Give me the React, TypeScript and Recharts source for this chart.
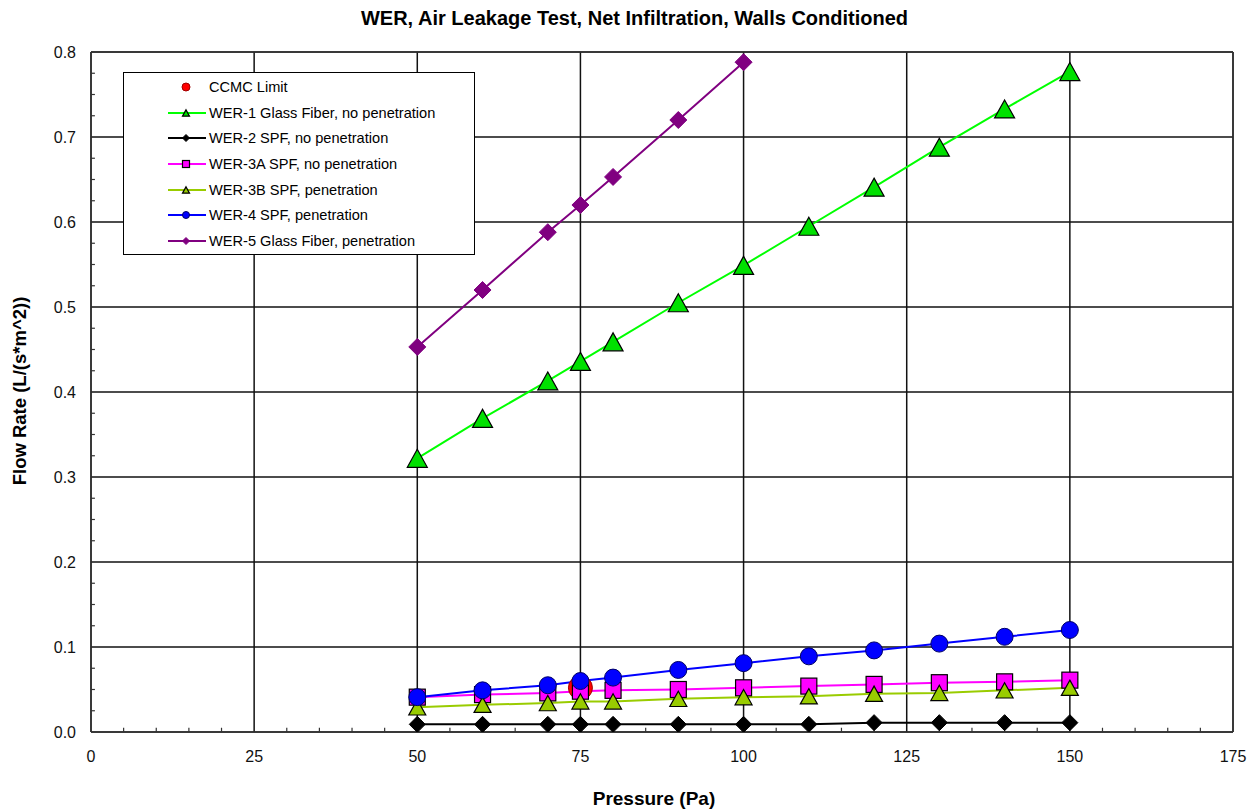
import React from "react";
import {
  LineChart,
  Line,
  XAxis,
  YAxis,
  CartesianGrid,
  ReferenceLine,
} from "recharts";

const pressureLong = [50, 60, 70, 75, 80, 90, 100, 110, 120, 130, 140, 150];
const pressureShort = [50, 60, 70, 75, 80, 90, 100];

const ccmcLimit = [0.052];
const wer1 = [0.322, 0.369, 0.413, 0.436, 0.459, 0.505, 0.549, 0.595, 0.641, 0.688, 0.733, 0.777];
const wer2 = [0.009, 0.009, 0.009, 0.009, 0.009, 0.009, 0.009, 0.009, 0.011, 0.011, 0.011, 0.011];
const wer3a = [0.041, 0.044, 0.046, 0.048, 0.049, 0.05, 0.052, 0.054, 0.056, 0.058, 0.059, 0.061];
const wer3b = [0.029, 0.032, 0.034, 0.036, 0.036, 0.039, 0.041, 0.042, 0.045, 0.046, 0.049, 0.052];
const wer4 = [0.041, 0.049, 0.055, 0.06, 0.064, 0.073, 0.081, 0.089, 0.096, 0.104, 0.112, 0.12];
const wer5 = [0.453, 0.52, 0.588, 0.62, 0.653, 0.72, 0.788];

const xTicks = [0, 25, 50, 75, 100, 125, 150, 175];
const yTicks = [0, 0.1, 0.2, 0.3, 0.4, 0.5, 0.6, 0.7, 0.8];
// minor ticks (inside the plot), skipping the major positions
const xMinor = Array.from({ length: 36 }, (_, i) => i * 5).filter((v) => v % 25 !== 0);
const yMinor = Array.from({ length: 33 }, (_, i) => Math.round(i * 25) / 1000).filter((_, i) => i % 4 !== 0);

const toPoints = (xs: number[], ys: number[]) => ys.map((y, i) => ({ x: xs[i], y }));

type Marker = "circle" | "triangle" | "diamond" | "square";

interface Series {
  name: string;
  data: { x: number; y: number }[];
  line: string;
  fill: string;
  stroke: string;
  marker: Marker;
  size: number;
  showLine: boolean;
}

const series: Series[] = [
  { name: "CCMC Limit", data: toPoints([75], ccmcLimit), line: "none", fill: "#ff0000", stroke: "#a00000", marker: "circle", size: 24, showLine: false },
  { name: "WER-1 Glass Fiber, no penetration", data: toPoints(pressureLong, wer1), line: "#00ff00", fill: "#00e000", stroke: "#000", marker: "triangle", size: 20, showLine: true },
  { name: "WER-2 SPF, no penetration", data: toPoints(pressureLong, wer2), line: "#000000", fill: "#000", stroke: "#000", marker: "diamond", size: 16, showLine: true },
  { name: "WER-3A SPF, no penetration", data: toPoints(pressureLong, wer3a), line: "#ff00ff", fill: "#ff00ff", stroke: "#000", marker: "square", size: 16, showLine: true },
  { name: "WER-3B SPF, penetration", data: toPoints(pressureLong, wer3b), line: "#99cc00", fill: "#99cc00", stroke: "#000", marker: "triangle", size: 17, showLine: true },
  { name: "WER-4 SPF, penetration", data: toPoints(pressureLong, wer4), line: "#0000ff", fill: "#0000ff", stroke: "#000066", marker: "circle", size: 17, showLine: true },
  { name: "WER-5 Glass Fiber, penetration", data: toPoints(pressureShort, wer5), line: "#800080", fill: "#800080", stroke: "#800080", marker: "diamond", size: 17, showLine: true },
];

const drawMarker = (m: Marker, cx: number, cy: number, s: number, fill: string, stroke: string, key?: string) => {
  const h = s / 2;
  if (m === "circle") {
    return <circle key={key} cx={cx} cy={cy} r={h} fill={fill} stroke={stroke} strokeWidth={1} />;
  }
  if (m === "square") {
    return <rect key={key} x={cx - h} y={cy - h} width={s} height={s} fill={fill} stroke={stroke} strokeWidth={1.2} />;
  }
  if (m === "diamond") {
    return (
      <polygon key={key} points={`${cx},${cy - h} ${cx + h},${cy} ${cx},${cy + h} ${cx - h},${cy}`} fill={fill} stroke={stroke} strokeWidth={1} />
    );
  }
  const th = s * 0.9;
  return (
    <polygon key={key} points={`${cx},${cy - th / 2} ${cx + h},${cy + th / 2} ${cx - h},${cy + th / 2}`} fill={fill} stroke={stroke} strokeWidth={1.2} />
  );
};

const makeDot = (s: Series) => (props: any) => {
  const { cx, cy, index } = props;
  if (cx == null || cy == null) return <g key={`${s.name}-${index}`} />;
  return drawMarker(s.marker, cx, cy, s.size, s.fill, s.stroke, `${s.name}-${index}`);
};

const font = "Liberation Sans, Arial, sans-serif";

const LegendBox = () => (
  <div
    style={{
      position: "absolute",
      left: 123,
      top: 72,
      width: 352,
      height: 183,
      border: "1px solid #000",
      background: "#fff",
      boxSizing: "border-box",
      paddingTop: 1,
      fontFamily: font,
      fontSize: 14.6,
      color: "#000",
    }}
  >
    {series.map((s) => (
      <div key={s.name} style={{ display: "flex", alignItems: "center", height: 25.7 }}>
        <svg width={85} height={20} style={{ flex: "none" }}>
          {s.showLine && <line x1={44} x2={82} y1={10} y2={10} stroke={s.line} strokeWidth={2} />}
          {drawMarker(s.marker, 62, 10, s.marker === "circle" && !s.showLine ? 8 : 7, s.fill, s.stroke)}
        </svg>
        <span>{s.name}</span>
      </div>
    ))}
  </div>
);

export default function App() {
  return (
    <div style={{ position: "absolute", left: 0, top: 0, width: 1257, height: 812, background: "#fff", fontFamily: font }}>
      <div style={{ position: "absolute", top: 7, left: 0, width: 1269, textAlign: "center", fontWeight: "bold", fontSize: 20 }}>
        WER, Air Leakage Test, Net Infiltration, Walls Conditioned
      </div>
      <div style={{ position: "absolute", top: 788, left: 0, width: 1308, textAlign: "center", fontWeight: "bold", fontSize: 19 }}>
        Pressure (Pa)
      </div>
      <div
        style={{
          position: "absolute",
          left: 20,
          top: 391,
          transform: "translate(-50%, -50%) rotate(-90deg)",
          whiteSpace: "nowrap",
          fontWeight: "bold",
          fontSize: 18.5,
        }}
      >
        Flow Rate (L/(s*m^2))
      </div>
      <LineChart width={1257} height={812} margin={{ top: 52, right: 24, bottom: 30, left: 0 }} style={{ position: "absolute", left: 0, top: 0 }}>
        <CartesianGrid stroke="#111" strokeWidth={1.5} horizontalValues={yTicks} verticalValues={xTicks} />
        <XAxis
          dataKey="x"
          type="number"
          domain={[0, 175]}
          ticks={xTicks}
          allowDataOverflow
          height={50}
          tickLine={false}
          tickSize={0}
          tickMargin={19}
          axisLine={{ stroke: "#333", strokeWidth: 1.5 }}
          tick={{ fill: "#111", fontSize: 16, fontFamily: font }}
        />
        <YAxis
          type="number"
          domain={[0, 0.8]}
          ticks={yTicks}
          allowDataOverflow
          width={91}
          tickLine={false}
          tickSize={0}
          tickMargin={15}
          tickFormatter={(v: number) => v.toFixed(1)}
          axisLine={{ stroke: "#333", strokeWidth: 1.5 }}
          tick={{ fill: "#111", fontSize: 16, fontFamily: font }}
        />
        <ReferenceLine x={175} stroke="#333" strokeWidth={1.5} />
        <ReferenceLine y={0.8} stroke="#333" strokeWidth={1.5} />
        {xMinor.map((v) => (
          <ReferenceLine
            key={`mx-${v}`}
            segment={[{ x: v, y: 0 }, { x: v, y: 0.005 }]}
            stroke="#333"
            strokeWidth={1.2}
          />
        ))}
        {yMinor.map((v) => (
          <ReferenceLine
            key={`my-${v}`}
            segment={[{ x: 0, y: v }, { x: 0.6, y: v }]}
            stroke="#333"
            strokeWidth={1.2}
          />
        ))}
        {series.map((s) => (
          <Line
            key={s.name}
            name={s.name}
            data={s.data}
            dataKey="y"
            type="linear"
            stroke={s.showLine ? s.line : "none"}
            strokeWidth={2}
            dot={makeDot(s)}
            activeDot={false}
            isAnimationActive={false}
            legendType="none"
          />
        ))}
      </LineChart>
      <LegendBox />
    </div>
  );
}
